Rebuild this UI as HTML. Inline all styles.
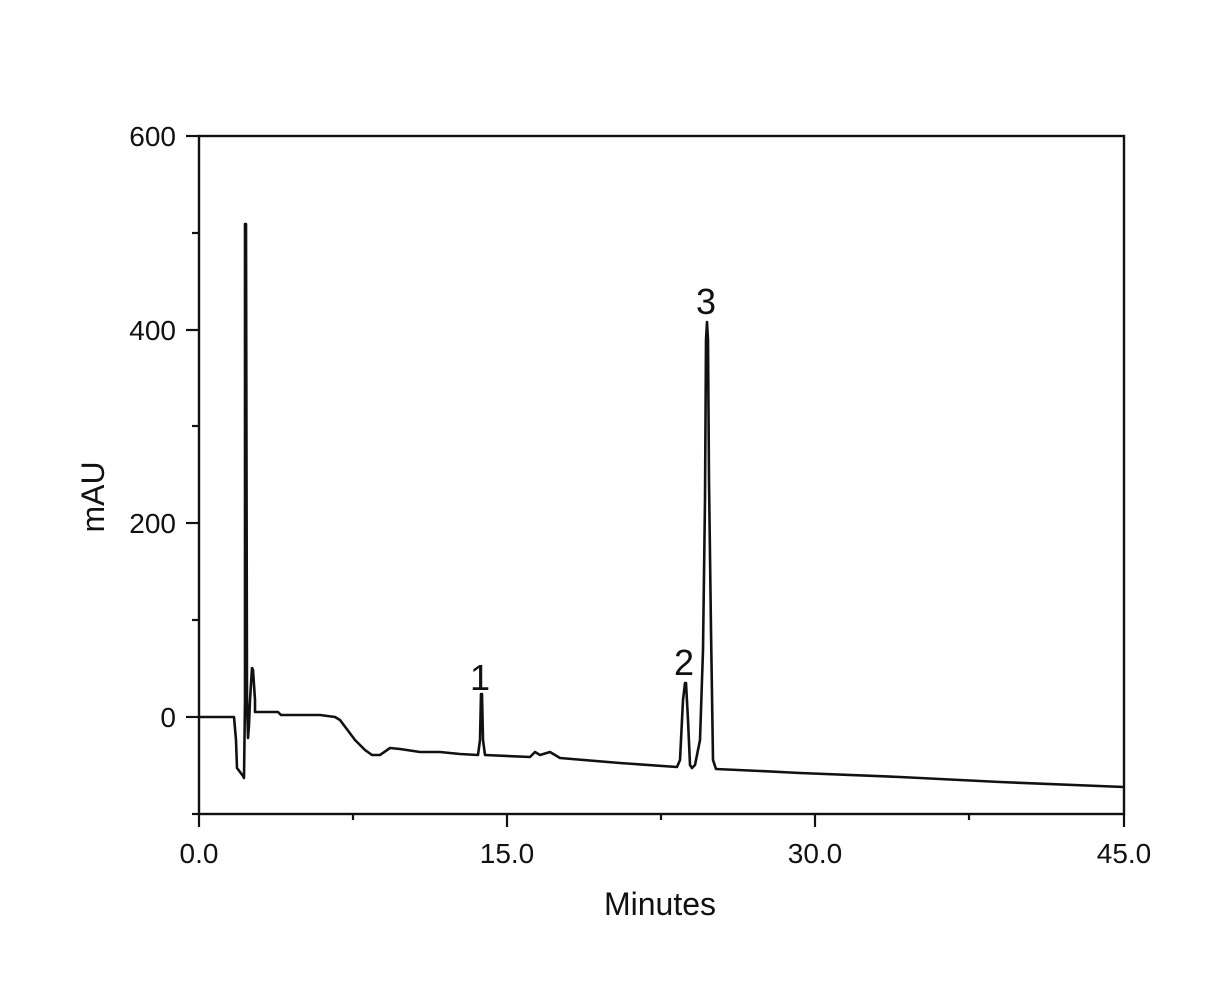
<!DOCTYPE html><html><head><style>body{margin:0;background:#fff}svg{display:block}text{font-family:"Liberation Sans",sans-serif;fill:#111}</style></head><body>
<svg width="1224" height="994" viewBox="0 0 1224 994">
<rect x="199" y="136" width="925" height="678" fill="none" stroke="#111" stroke-width="2.4"/>
<g stroke="#111" stroke-width="2.2">
<line x1="186" y1="136" x2="199" y2="136"/><line x1="186" y1="330" x2="199" y2="330"/><line x1="186" y1="523" x2="199" y2="523"/><line x1="186" y1="717" x2="199" y2="717"/>
<line x1="192" y1="233" x2="199" y2="233"/><line x1="192" y1="426" x2="199" y2="426"/><line x1="192" y1="620" x2="199" y2="620"/><line x1="192" y1="814" x2="199" y2="814"/>
<line x1="199" y1="814" x2="199" y2="827"/><line x1="507" y1="814" x2="507" y2="827"/><line x1="815" y1="814" x2="815" y2="827"/><line x1="1124" y1="814" x2="1124" y2="827"/>
<line x1="353" y1="814" x2="353" y2="820"/><line x1="661" y1="814" x2="661" y2="820"/><line x1="969" y1="814" x2="969" y2="820"/>
</g>
<g font-size="28" text-anchor="end"><text x="176" y="146">600</text><text x="176" y="340">400</text><text x="176" y="533">200</text><text x="176" y="727">0</text></g>
<g font-size="28" text-anchor="middle"><text x="199" y="863">0.0</text><text x="507" y="863">15.0</text><text x="815" y="863">30.0</text><text x="1124" y="863">45.0</text>
<text x="660" y="915" font-size="32">Minutes</text>
<text transform="translate(104,497) rotate(-90)" font-size="32">mAU</text>
<text x="480" y="690" font-size="36">1</text><text x="684" y="675" font-size="36">2</text><text x="706" y="314" font-size="36">3</text></g>
<polyline fill="none" stroke="#111" stroke-width="2.6" stroke-linejoin="round" points="199,717 234,717 236,740 237,768 243,776 244,778 245,700 245,224 246,224 247,700 248,738 249,725 250,700 252,668 253,670 255,700 255,712 265,712 278,712 281,715 320,715 335,717 340,720 355,740 365,750 372,755 380,755 390,748 400,749 420,752 440,752 460,754 478,755 480,740 481,694 482,694 483,740 485,755 530,757 535,752 540,755 550,752 560,758 620,763 677,767 680,760 683,700 685,683 686,683 688,720 690,765 692,768 695,765 700,740 703,650 705,500 706,340 707,322 708,340 709,480 711,630 713,760 716,769 760,771 800,773 900,777 1000,782 1124,787"/>
</svg></body></html>
